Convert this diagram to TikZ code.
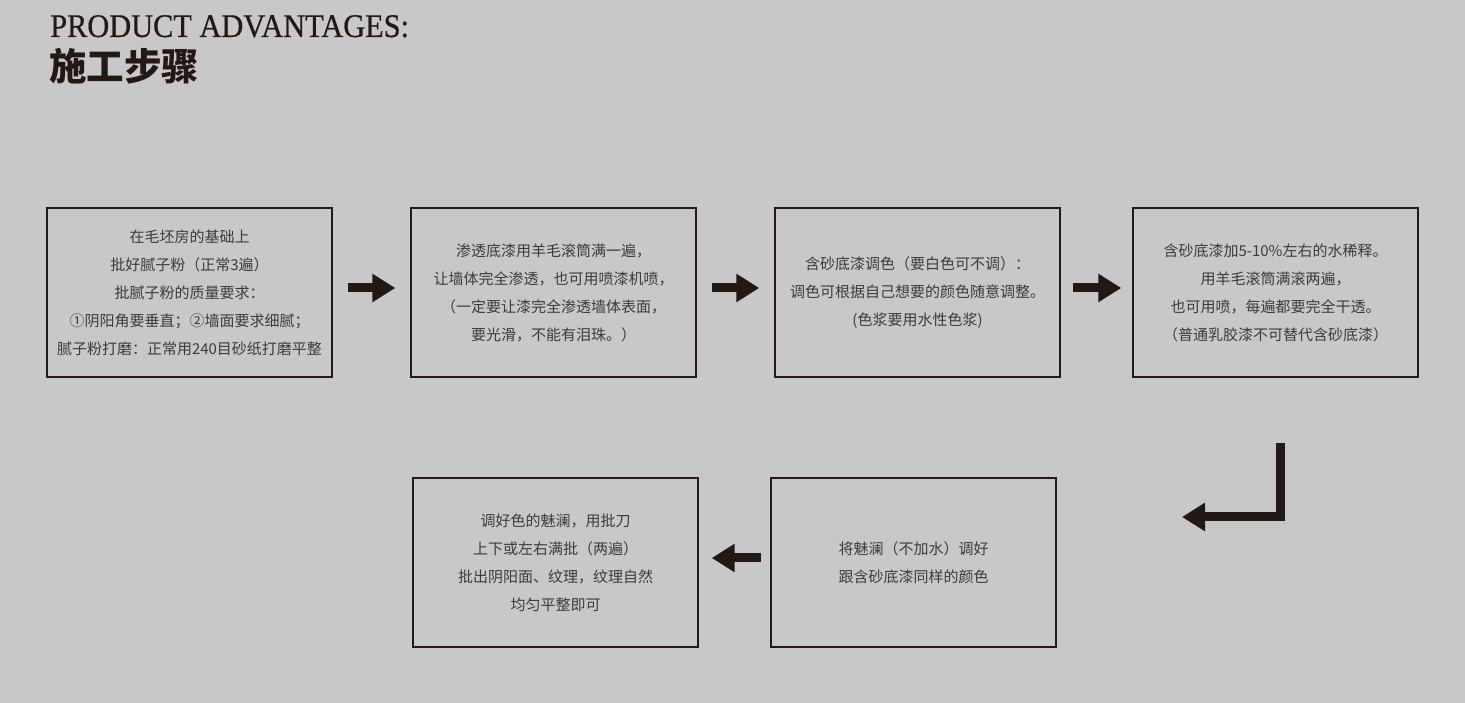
\documentclass[tikz,border=0pt]{standalone}
\usepackage{fontspec}
\usetikzlibrary{arrows.meta}
\setmainfont{Noto Sans CJK SC}
\newfontfamily\cjk{Noto Sans CJK SC}
\newfontfamily\titlefont[FakeStretch=0.92,FakeBold=0.6]{Liberation Serif}
\definecolor{bgc}{HTML}{C8C8C8}
\definecolor{boxc}{HTML}{231815}
\definecolor{txtc}{HTML}{3E3A39}
\definecolor{arrc}{HTML}{231815}
\definecolor{titc}{HTML}{231815}
\begin{document}
\begin{tikzpicture}[x=1pt,y=1pt,
  stepbox/.style={draw=boxc, line width=1.4pt, minimum width=285pt, minimum height=169pt,
    inner sep=0pt, align=center, text=txtc, font=\cjk\fontsize{15}{28}\selectfont},
  blk/.style={draw=arrc, line width=9pt, -{Triangle[length=23pt,width=27pt]}, line join=miter},
  titlestyle/.style={anchor=base west, inner sep=0pt, text=titc}]
\fill[bgc] (0,0) rectangle (1465,703);
\useasboundingbox (0,0) rectangle (1465,703);

\node[titlestyle, font=\titlefont\fontsize{33}{33}\selectfont] (t1) at (50,666) {PRODUCT ADVANTAGES:};
\node[titlestyle, font=\cjk\bfseries\fontsize{37.5}{37.5}\selectfont] (t2) at (49,622) {施工步骤};

\node[stepbox] (b1) at (189.5,410.5) {在毛坯房的基础上\\批好腻子粉（正常3遍）\\批腻子粉的质量要求：\\①阴阳角要垂直；②墙面要求细腻；\\腻子粉打磨：正常用240目砂纸打磨平整};
\node[stepbox] (b2) at (553.5,410.5) {渗透底漆用羊毛滚筒满一遍，\\让墙体完全渗透，也可用喷漆机喷，\\（一定要让漆完全渗透墙体表面，\\要光滑，不能有泪珠。）};
\node[stepbox] (b3) at (917.5,410.5) {含砂底漆调色（要白色可不调）：\\调色可根据自己想要的颜色随意调整。\\(色浆要用水性色浆)};
\node[stepbox] (b4) at (1275.5,410.5) {含砂底漆加5-10\%左右的水稀释。\\用羊毛滚筒满滚两遍，\\也可用喷，每遍都要完全干透。\\（普通乳胶漆不可替代含砂底漆）};
\node[stepbox] (b5) at (913.5,140.5) {将魅澜（不加水）调好\\跟含砂底漆同样的颜色};
\node[stepbox] (b6) at (555.5,140.5) {调好色的魅澜，用批刀\\上下或左右满批（两遍）\\批出阴阳面、纹理，纹理自然\\均匀平整即可};

\draw[blk, shorten <=15pt, shorten >=15pt] ([yshift=4.5pt]b1.east) -- ([yshift=4.5pt]b2.west);
\draw[blk, shorten <=15pt, shorten >=15pt] ([yshift=4.5pt]b2.east) -- ([yshift=4.5pt]b3.west);
\draw[blk, shorten <=12pt, shorten >=11pt] ([yshift=4.5pt]b3.east) -- ([yshift=4.5pt]b4.west);
\coordinate (lstart) at (1280.5,260);
\coordinate (ltip) at (1182,186);
\draw[blk] (lstart) |- (ltip);
\draw[blk, shorten <=9pt, shorten >=13pt] ([yshift=4.5pt]b5.west) -- ([yshift=4.5pt]b6.east);
\end{tikzpicture}
\end{document}
